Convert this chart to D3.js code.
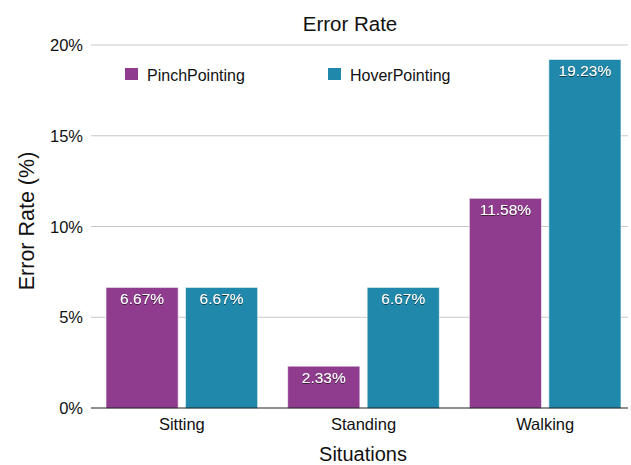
<!DOCTYPE html>
<html>
<head>
<meta charset="utf-8">
<script src="https://cdn.jsdelivr.net/npm/d3@7"></script>
<style>
  html, body { margin: 0; padding: 0; background: #fff; }
  svg { display: block; font-family: "Liberation Sans", Arial, Helvetica, sans-serif; }
</style>
</head>
<body>
<svg id="chart" width="631" height="465"></svg>
<script>
// Error rate per situation for the two pointing techniques
const situations = ["Sitting", "Standing", "Walking"];
const techniques = ["PinchPointing", "HoverPointing"];
const pinchValues = [6.67, 2.33, 11.58];
const hoverValues = [6.67, 6.67, 19.23];
const yTicks = [0, 5, 10, 15, 20];
const colors = ["#8f3c8e", "#2089ab"];

const svg = d3.select("#chart");
const plot = { left: 91, right: 636, top: 45, bottom: 408 };

const x0 = d3.scaleBand().domain(situations).range([plot.left, plot.right]).paddingInner(0.16).paddingOuter(0.08);
const x1 = d3.scaleBand().domain(techniques).range([0, x0.bandwidth()]).paddingInner(0.08);
const y = d3.scaleLinear().domain([0, 20]).range([plot.bottom, plot.top]);

// Horizontal gridlines
svg.append("g")
  .selectAll("line")
  .data(yTicks.filter(t => t > 0))
  .join("line")
  .attr("x1", plot.left).attr("x2", 628)
  .attr("y1", d => y(d)).attr("y2", d => y(d))
  .attr("stroke", "#c8c8c8").attr("stroke-width", 1);

// Y tick labels
svg.append("g")
  .selectAll("text")
  .data(yTicks)
  .join("text")
  .attr("x", 83).attr("y", d => y(d) + 6)
  .attr("text-anchor", "end")
  .attr("font-size", 16.5).attr("fill", "#111")
  .text(d => d + "%");

// Bars
const rows = situations.map((s, i) => ({ situation: s, values: [pinchValues[i], hoverValues[i]] }));
const groups = svg.append("g").selectAll("g")
  .data(rows)
  .join("g")
  .attr("transform", d => `translate(${x0(d.situation)},0)`);

const bars = groups.selectAll("g")
  .data(d => d.values.map((v, j) => ({ key: techniques[j], value: v, color: colors[j] })))
  .join("g");

bars.append("rect")
  .attr("x", d => x1(d.key) + 0.5)
  .attr("y", d => y(d.value) + 0.5)
  .attr("width", x1.bandwidth() - 1)
  .attr("height", d => y(0) - y(d.value))
  .attr("fill", d => d.color)
  .attr("stroke", "rgba(255,255,255,0.55)")
  .attr("stroke-width", 1);

// Value labels with a soft dark outline
const defs = svg.append("defs");
const f = defs.append("filter").attr("id", "shadow").attr("x", "-20%").attr("y", "-40%").attr("width", "140%").attr("height", "180%");
f.append("feDropShadow").attr("dx", 0).attr("dy", 0.6).attr("stdDeviation", 0.7).attr("flood-color", "#000").attr("flood-opacity", 0.9);

bars.append("text")
  .attr("x", d => x1(d.key) + x1.bandwidth() / 2)
  .attr("y", d => y(d.value) + 17)
  .attr("text-anchor", "middle")
  .attr("font-size", 15.5)
  .attr("fill", "#fff")
  .attr("filter", "url(#shadow)")
  .text(d => d.value.toFixed(2) + "%");

// Zero baseline
svg.append("line")
  .attr("x1", plot.left).attr("x2", 628)
  .attr("y1", y(0)).attr("y2", y(0))
  .attr("stroke", "#222").attr("stroke-width", 1.2);

// X category labels
svg.append("g").selectAll("text")
  .data(situations)
  .join("text")
  .attr("x", d => x0(d) + x0.bandwidth() / 2)
  .attr("y", 430)
  .attr("text-anchor", "middle")
  .attr("font-size", 16.5).attr("fill", "#111")
  .text(d => d);

// Title and axis titles
svg.append("text").attr("x", 350).attr("y", 31).attr("text-anchor", "middle")
  .attr("font-size", 20.5).attr("fill", "#111").text("Error Rate");
svg.append("text").attr("x", 363).attr("y", 460.5).attr("text-anchor", "middle")
  .attr("font-size", 20).attr("fill", "#111").text("Situations");
svg.append("text")
  .attr("transform", `translate(34,221) rotate(-90)`)
  .attr("text-anchor", "middle")
  .attr("font-size", 21.5).attr("fill", "#111").text("Error Rate (%)");

// Legend
const legendX = [125, 328];
const legend = svg.append("g").selectAll("g")
  .data(techniques)
  .join("g")
  .attr("transform", (d, i) => `translate(${legendX[i]},68)`);
legend.append("rect").attr("width", 13).attr("height", 12).attr("fill", (d, i) => colors[i]);
legend.append("text").attr("x", 22).attr("y", 12.5).attr("font-size", 16).attr("fill", "#111").text(d => d);
</script>
</body>
</html>
